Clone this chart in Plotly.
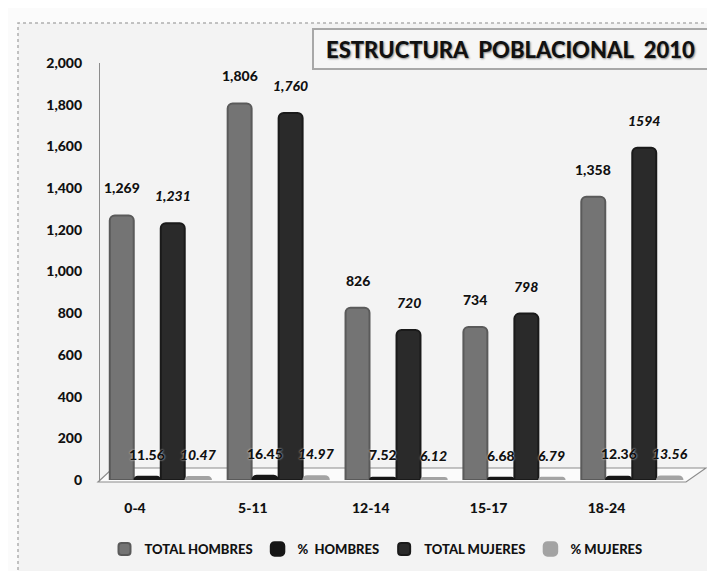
"""Estructura poblacional 2010 - grouped bar chart."""

import plotly.graph_objects as go

# ----- Data -----
GRUPOS = ["0-4", "5-11", "12-14", "15-17", "18-24"]
TOTAL_HOMBRES = [1269, 1806, 826, 734, 1358]
PCT_HOMBRES = [11.56, 16.45, 7.52, 6.68, 12.36]
TOTAL_MUJERES = [1231, 1760, 720, 798, 1594]
PCT_MUJERES = [10.47, 14.97, 6.12, 6.79, 13.56]
TOTAL_MUJERES_TEXT = ["1,231", "1,760", "720", "798", "1594"]
Y_TICKS = [0, 200, 400, 600, 800, 1000, 1200, 1400, 1600, 1800, 2000]

# ----- Layout constants (pixels) -----
W, H = 715, 571
PLOT_L, PLOT_R, PLOT_T, PLOT_B = 92, 698, 55, 472
BARGAP = 0.135
FONT = "Lato"
WEIGHT = 900


def px_x(x):
    return (x - PLOT_L) / (PLOT_R - PLOT_L)


def px_y(y):
    return (PLOT_B - y) / (PLOT_B - PLOT_T)


series = [
    ("TOTAL HOMBRES", TOTAL_HOMBRES, "#747474", "#5a5a5a", 2),
    ("%  HOMBRES", PCT_HOMBRES, "#161616", "#161616", 3.5),
    ("TOTAL MUJERES", TOTAL_MUJERES, "#2a2a2a", "#1a1a1a", 2),
    ("% MUJERES", PCT_MUJERES, "#a3a3a3", "#a3a3a3", 3.5),
]

fig = go.Figure()
for name, vals, color, line, lw in series:
    fig.add_trace(go.Bar(
        name=name,
        x=GRUPOS,
        y=vals,
        marker=dict(color=color, line=dict(color=line, width=lw)),
        hoverinfo="skip",
    ))

# ----- Data labels -----
labels = [
    ([f"{v:,}" for v in TOTAL_HOMBRES], TOTAL_HOMBRES, "normal", 17),
    ([f"{v:.2f}" for v in PCT_HOMBRES], PCT_HOMBRES, "normal", 13),
    (TOTAL_MUJERES_TEXT, TOTAL_MUJERES, "italic", 17),
    ([f"{v:.2f}" for v in PCT_MUJERES], PCT_MUJERES, "italic", 13),
]
slot = (1 - BARGAP) / 4
for j, (texts, vals, style, shift) in enumerate(labels):
    for i, (t, v) in enumerate(zip(texts, vals)):
        fig.add_annotation(
            x=i + (j - 1.5) * slot, y=v, xref="x", yref="y",
            text=t, showarrow=False, yanchor="bottom", yshift=shift,
            font=dict(family=FONT, size=14, color="#111", weight=WEIGHT,
                      style=style, shadow="0px 0px 2px #ffffff"),
        )

# ----- Title box -----
fig.add_annotation(
    x=px_x(502), y=px_y(41), xref="paper", yref="paper",
    xanchor="center", yanchor="middle", showarrow=False,
    text="ESTRUCTURA  POBLACIONAL  2010",
    width=391, height=36,
    bgcolor="#f6f6f6", bordercolor="#a8a8a8", borderwidth=2,
    font=dict(family=FONT, size=22, color="#111", weight=WEIGHT,
              shadow="1px 1px 2px #8a8a8a"),
)

# ----- Chart frame and 3D floor -----
fig.add_shape(
    type="rect", xref="paper", yref="paper", layer="below",
    x0=px_x(10), x1=px_x(716), y0=px_y(567), y1=px_y(15),
    fillcolor="#f3f3f3", line=dict(color="#b0b0b0", width=1.5, dash="dot"),
)
floor = "M {} {} L {} {} L {} {} L {} {} Z".format(
    px_x(90), px_y(474), px_x(678), px_y(474),
    px_x(698), px_y(460), px_x(105), px_y(460),
)
fig.add_shape(
    type="path", path=floor, xref="paper", yref="paper", layer="below",
    fillcolor="#fbfbfb", line=dict(color="#8c8c8c", width=1.2),
)

fig.update_layout(
    width=W, height=H,
    margin=dict(l=PLOT_L, r=W - PLOT_R, t=PLOT_T, b=H - PLOT_B),
    paper_bgcolor="#fbfbfb",
    plot_bgcolor="rgba(0,0,0,0)",
    barmode="group",
    bargap=BARGAP,
    bargroupgap=0.06,
    barcornerradius=5,
    showlegend=True,
    legend=dict(
        orientation="h", x=px_x(368), xanchor="center",
        y=px_y(541), yanchor="middle",
        bgcolor="rgba(0,0,0,0)",
        font=dict(family=FONT, size=13, color="#111", weight=WEIGHT),
        itemwidth=30, traceorder="normal",
    ),
    font=dict(family=FONT, color="#111"),
)
fig.update_xaxes(
    range=[-0.509, 4.632],
    showline=False, showgrid=False, zeroline=False, ticks="",
    ticklabelshift=-25, ticklabelstandoff=18,
    tickfont=dict(family=FONT, size=14, color="#111", weight=WEIGHT),
)
fig.update_yaxes(
    range=[0, 2000], tickvals=Y_TICKS, tickformat=",",
    showline=True, linecolor="#8c8c8c", linewidth=1.2,
    showgrid=False, zeroline=False, ticks="",
    ticklabelstandoff=14,
    tickfont=dict(family=FONT, size=14, color="#111", weight=WEIGHT),
)

fig.write_html("out.html")
